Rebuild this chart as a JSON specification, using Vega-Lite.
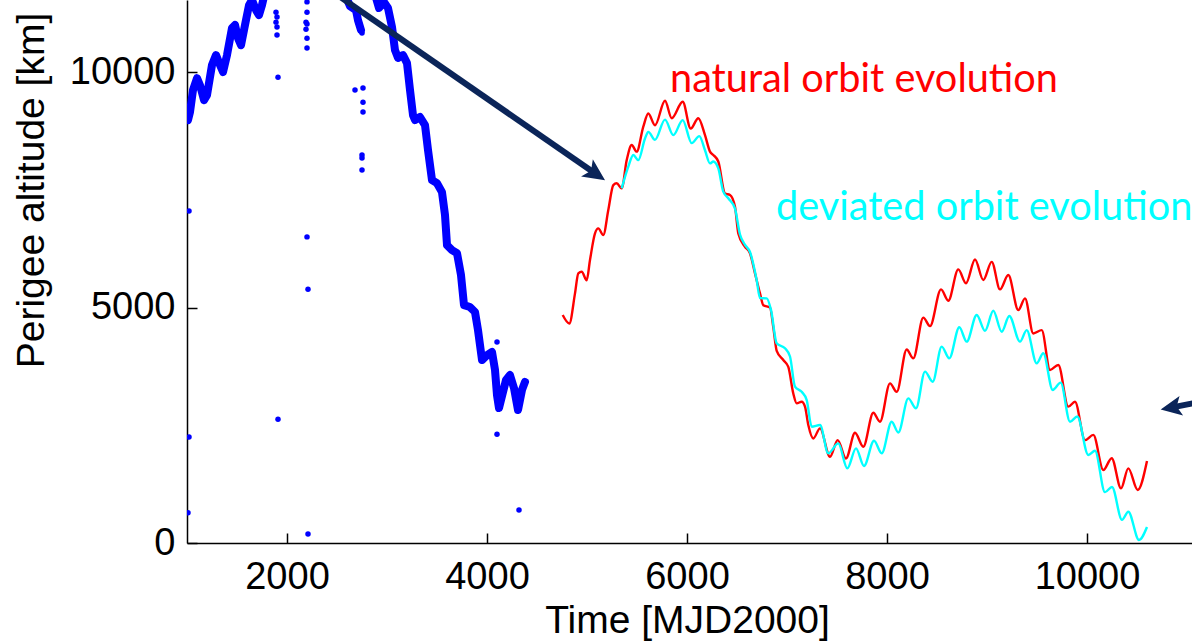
{
  "$schema": "https://vega.github.io/schema/vega-lite/v6.json",
  "width": 1005,
  "height": 543,
  "autosize": {"type": "none"},
  "padding": {"left": 187, "top": 0, "right": 0, "bottom": 99},
  "background": "#ffffff",
  "view": {"stroke": null},
  "datasets": {
    "track": [
      {"seg": "a", "t": 1010, "h": 8980}, {"seg": "a", "t": 1030, "h": 9150}, {"seg": "a", "t": 1060, "h": 9620},
      {"seg": "a", "t": 1100, "h": 9870}, {"seg": "a", "t": 1130, "h": 9720}, {"seg": "a", "t": 1170, "h": 9405},
      {"seg": "a", "t": 1200, "h": 9510}, {"seg": "a", "t": 1250, "h": 10150}, {"seg": "a", "t": 1290, "h": 10360},
      {"seg": "a", "t": 1330, "h": 10150}, {"seg": "a", "t": 1360, "h": 10000}, {"seg": "a", "t": 1400, "h": 10360},
      {"seg": "a", "t": 1450, "h": 10935}, {"seg": "a", "t": 1480, "h": 11000}, {"seg": "a", "t": 1510, "h": 10720},
      {"seg": "a", "t": 1540, "h": 10570}, {"seg": "a", "t": 1580, "h": 11000}, {"seg": "a", "t": 1620, "h": 11420},
      {"seg": "a", "t": 1650, "h": 11530}, {"seg": "a", "t": 1690, "h": 11315}, {"seg": "a", "t": 1720, "h": 11210},
      {"seg": "a", "t": 1750, "h": 11420}, {"seg": "a", "t": 1780, "h": 11700},
      {"seg": "b", "t": 2590, "h": 11600}, {"seg": "b", "t": 2630, "h": 11400}, {"seg": "b", "t": 2690, "h": 11315},
      {"seg": "b", "t": 2710, "h": 11100}, {"seg": "b", "t": 2740, "h": 10890},
      {"seg": "c", "t": 2880, "h": 11650}, {"seg": "c", "t": 2920, "h": 11360}, {"seg": "c", "t": 2970, "h": 11485},
      {"seg": "c", "t": 3010, "h": 11360}, {"seg": "c", "t": 3050, "h": 10955}, {"seg": "c", "t": 3080, "h": 10465},
      {"seg": "c", "t": 3110, "h": 10300}, {"seg": "c", "t": 3160, "h": 10360}, {"seg": "c", "t": 3200, "h": 10190},
      {"seg": "c", "t": 3230, "h": 9620}, {"seg": "c", "t": 3260, "h": 9085}, {"seg": "c", "t": 3280, "h": 8980},
      {"seg": "c", "t": 3330, "h": 9045}, {"seg": "c", "t": 3380, "h": 8875}, {"seg": "c", "t": 3410, "h": 8345},
      {"seg": "c", "t": 3450, "h": 7705}, {"seg": "c", "t": 3500, "h": 7640}, {"seg": "c", "t": 3550, "h": 7450},
      {"seg": "c", "t": 3580, "h": 6965}, {"seg": "c", "t": 3600, "h": 6325}, {"seg": "c", "t": 3650, "h": 6220},
      {"seg": "c", "t": 3700, "h": 6155}, {"seg": "c", "t": 3740, "h": 5690}, {"seg": "c", "t": 3770, "h": 5050},
      {"seg": "c", "t": 3830, "h": 5010}, {"seg": "c", "t": 3880, "h": 4905}, {"seg": "c", "t": 3910, "h": 4520},
      {"seg": "c", "t": 3950, "h": 3885}, {"seg": "c", "t": 4000, "h": 3990}, {"seg": "c", "t": 4050, "h": 4055},
      {"seg": "c", "t": 4080, "h": 3675}, {"seg": "c", "t": 4100, "h": 3140}, {"seg": "c", "t": 4120, "h": 2865},
      {"seg": "c", "t": 4160, "h": 3205}, {"seg": "c", "t": 4190, "h": 3460}, {"seg": "c", "t": 4230, "h": 3565},
      {"seg": "c", "t": 4270, "h": 3290}, {"seg": "c", "t": 4310, "h": 2825}, {"seg": "c", "t": 4350, "h": 3250},
      {"seg": "c", "t": 4380, "h": 3420}
    ],
    "dots": [
      {"t": 1020, "h": 7050}, {"t": 1020, "h": 2250}, {"t": 1010, "h": 640},
      {"t": 1890, "h": 11270}, {"t": 1900, "h": 11170}, {"t": 1890, "h": 11060}, {"t": 1900, "h": 10955},
      {"t": 1900, "h": 10785}, {"t": 1910, "h": 9890}, {"t": 1910, "h": 2630},
      {"t": 2200, "h": 11490}, {"t": 2200, "h": 11270}, {"t": 2190, "h": 11060}, {"t": 2200, "h": 11020},
      {"t": 2190, "h": 10910}, {"t": 2200, "h": 10720}, {"t": 2200, "h": 10510}, {"t": 2200, "h": 6500},
      {"t": 2210, "h": 5390}, {"t": 2210, "h": 190},
      {"t": 2750, "h": 10830}, {"t": 2680, "h": 9620}, {"t": 2760, "h": 9660}, {"t": 2760, "h": 9360},
      {"t": 2760, "h": 9150}, {"t": 2750, "h": 8240}, {"t": 2750, "h": 8175}, {"t": 2750, "h": 7920},
      {"t": 4100, "h": 4270}, {"t": 4100, "h": 2310}, {"t": 4320, "h": 700}
    ],
    "natural": [
      {"t": 4757, "h": 4840}, {"t": 4823, "h": 4660}, {"t": 4880, "h": 5300}, {"t": 4913, "h": 5725},
      {"t": 4947, "h": 5760}, {"t": 4997, "h": 5580}, {"t": 5030, "h": 6010}, {"t": 5080, "h": 6575},
      {"t": 5113, "h": 6680}, {"t": 5163, "h": 6540}, {"t": 5213, "h": 7070}, {"t": 5263, "h": 7600},
      {"t": 5297, "h": 7640}, {"t": 5347, "h": 7530}, {"t": 5397, "h": 8130}, {"t": 5447, "h": 8450},
      {"t": 5497, "h": 8310}, {"t": 5563, "h": 8840}, {"t": 5613, "h": 9120}, {"t": 5680, "h": 8870},
      {"t": 5780, "h": 9390}, {"t": 5847, "h": 9020}, {"t": 5957, "h": 9370}, {"t": 6037, "h": 8800},
      {"t": 6113, "h": 9020}, {"t": 6180, "h": 8660}, {"t": 6230, "h": 8310}, {"t": 6263, "h": 8240},
      {"t": 6313, "h": 8100}, {"t": 6380, "h": 7420}, {"t": 6430, "h": 7390}, {"t": 6480, "h": 7140},
      {"t": 6513, "h": 6575}, {"t": 6580, "h": 6290}, {"t": 6630, "h": 6150}, {"t": 6680, "h": 5725},
      {"t": 6730, "h": 5300}, {"t": 6763, "h": 5050}, {"t": 6830, "h": 5000}, {"t": 6863, "h": 4580},
      {"t": 6897, "h": 4080}, {"t": 6963, "h": 3885}, {"t": 7013, "h": 3740}, {"t": 7063, "h": 3175},
      {"t": 7097, "h": 2965}, {"t": 7147, "h": 3000}, {"t": 7180, "h": 2895}, {"t": 7213, "h": 2505},
      {"t": 7263, "h": 2220}, {"t": 7330, "h": 2435}, {"t": 7430, "h": 1830}, {"t": 7507, "h": 2185},
      {"t": 7590, "h": 1795}, {"t": 7680, "h": 2340}, {"t": 7763, "h": 2045}, {"t": 7863, "h": 2765},
      {"t": 7930, "h": 2575}, {"t": 8030, "h": 3390}, {"t": 8097, "h": 3210}, {"t": 8197, "h": 4110},
      {"t": 8263, "h": 3920}, {"t": 8363, "h": 4785}, {"t": 8430, "h": 4605}, {"t": 8540, "h": 5385},
      {"t": 8613, "h": 5145}, {"t": 8713, "h": 5810}, {"t": 8790, "h": 5515}, {"t": 8880, "h": 6020},
      {"t": 8963, "h": 5585}, {"t": 9047, "h": 5970}, {"t": 9130, "h": 5385}, {"t": 9213, "h": 5690},
      {"t": 9313, "h": 4945}, {"t": 9380, "h": 5195}, {"t": 9463, "h": 4450}, {"t": 9547, "h": 4520},
      {"t": 9630, "h": 3675}, {"t": 9713, "h": 3780}, {"t": 9813, "h": 2895}, {"t": 9880, "h": 3000},
      {"t": 9980, "h": 2185}, {"t": 10063, "h": 2295}, {"t": 10163, "h": 1550}, {"t": 10247, "h": 1800},
      {"t": 10340, "h": 1160}, {"t": 10413, "h": 1585}, {"t": 10507, "h": 1125}, {"t": 10600, "h": 1740}
    ],
    "deviated": [
      {"t": 5347, "h": 7530}, {"t": 5413, "h": 7990}, {"t": 5463, "h": 8240}, {"t": 5513, "h": 8130},
      {"t": 5580, "h": 8590}, {"t": 5613, "h": 8730}, {"t": 5680, "h": 8560}, {"t": 5780, "h": 8990},
      {"t": 5863, "h": 8660}, {"t": 5957, "h": 8980}, {"t": 6047, "h": 8490}, {"t": 6123, "h": 8640},
      {"t": 6180, "h": 8340}, {"t": 6230, "h": 8060}, {"t": 6263, "h": 8100}, {"t": 6313, "h": 7955},
      {"t": 6363, "h": 7460}, {"t": 6413, "h": 7320}, {"t": 6480, "h": 7100}, {"t": 6530, "h": 6550},
      {"t": 6580, "h": 6330}, {"t": 6630, "h": 6180}, {"t": 6697, "h": 5580}, {"t": 6730, "h": 5200},
      {"t": 6797, "h": 5195}, {"t": 6840, "h": 4950}, {"t": 6897, "h": 4240}, {"t": 6980, "h": 4135},
      {"t": 7030, "h": 3960}, {"t": 7080, "h": 3320}, {"t": 7147, "h": 3210}, {"t": 7197, "h": 3035},
      {"t": 7247, "h": 2470}, {"t": 7330, "h": 2505}, {"t": 7413, "h": 1905}, {"t": 7513, "h": 2115},
      {"t": 7603, "h": 1585}, {"t": 7690, "h": 2010}, {"t": 7770, "h": 1635}, {"t": 7870, "h": 2170},
      {"t": 7947, "h": 1905}, {"t": 8047, "h": 2575}, {"t": 8113, "h": 2345}, {"t": 8213, "h": 3070},
      {"t": 8290, "h": 2860}, {"t": 8380, "h": 3640}, {"t": 8457, "h": 3425}, {"t": 8547, "h": 4170},
      {"t": 8623, "h": 3920}, {"t": 8723, "h": 4580}, {"t": 8797, "h": 4275}, {"t": 8897, "h": 4840},
      {"t": 8980, "h": 4505}, {"t": 9063, "h": 4930}, {"t": 9147, "h": 4485}, {"t": 9223, "h": 4820},
      {"t": 9330, "h": 4275}, {"t": 9397, "h": 4520}, {"t": 9497, "h": 3815}, {"t": 9563, "h": 4030},
      {"t": 9657, "h": 3250}, {"t": 9737, "h": 3405}, {"t": 9830, "h": 2575}, {"t": 9903, "h": 2685},
      {"t": 10013, "h": 1870}, {"t": 10080, "h": 1960}, {"t": 10180, "h": 1080}, {"t": 10250, "h": 1190},
      {"t": 10350, "h": 490}, {"t": 10413, "h": 665}, {"t": 10520, "h": 65}, {"t": 10600, "h": 340}
    ],
    "arrows": [
      {"arrow": "upper", "t": 2430, "h": 11746, "t2": 5090, "h2": 7834},
      {"arrow": "right", "t": 11230, "h": 3036, "t2": 10840, "h2": 2875}
    ]
  },
  "encoding": {
    "x": {
      "field": "t",
      "type": "quantitative",
      "scale": {"domain": [1000, 11050], "nice": false, "zero": false},
      "axis": {
        "values": [2000, 4000, 6000, 8000, 10000],
        "format": "d",
        "title": "Time [MJD2000]",
        "grid": false,
        "domainColor": "#000000",
        "domainWidth": 1.5,
        "tickColor": "#000000",
        "tickWidth": 1.5,
        "tickSize": -10,
        "labelFont": "Liberation Sans",
        "labelFontSize": 38,
        "labelColor": "#000000",
        "labelBaseline": "alphabetic",
        "labelPadding": 55,
        "labelFlush": false,
        "labelOverlap": false,
        "titleFont": "Liberation Sans",
        "titleFontSize": 39,
        "titleFontWeight": "normal",
        "titleColor": "#000000",
        "titleX": 500,
        "titleY": 89,
        "titleAlign": "center",
        "titleBaseline": "alphabetic"
      }
    },
    "y": {
      "field": "h",
      "type": "quantitative",
      "scale": {"domain": [0, 11530], "nice": false, "zero": false},
      "axis": {
        "values": [0, 5000, 10000],
        "format": "d",
        "title": "Perigee altitude [km]",
        "grid": false,
        "domainColor": "#000000",
        "domainWidth": 1.5,
        "tickColor": "#000000",
        "tickWidth": 1.5,
        "tickSize": -10,
        "labelFont": "Liberation Sans",
        "labelFontSize": 38,
        "labelColor": "#000000",
        "labelBaseline": "middle",
        "labelPadding": 22,
        "labelOverlap": false,
        "titleFont": "Liberation Sans",
        "titleFontSize": 39,
        "titleFontWeight": "normal",
        "titleColor": "#000000",
        "titleAngle": 270,
        "titleX": -144,
        "titleY": 190,
        "titleAlign": "center",
        "titleBaseline": "alphabetic"
      }
    }
  },
  "layer": [
    {
      "data": {"name": "track"},
      "mark": {"type": "line", "color": "#0000ff", "strokeWidth": 8, "strokeCap": "round", "strokeJoin": "round", "clip": true},
      "encoding": {"detail": {"field": "seg"}}
    },
    {
      "data": {"name": "dots"},
      "mark": {"type": "point", "shape": "circle", "filled": true, "color": "#0000ff", "opacity": 1, "size": 30, "clip": true}
    },
    {
      "data": {"name": "natural"},
      "mark": {"type": "line", "color": "#ff0000", "strokeWidth": 2.4, "interpolate": "monotone", "clip": true}
    },
    {
      "data": {"name": "deviated"},
      "mark": {"type": "line", "color": "#00ffff", "strokeWidth": 2.4, "interpolate": "monotone", "clip": true}
    },
    {
      "data": {"name": "arrows"},
      "mark": {"type": "rule", "color": "#0b2559", "strokeWidth": 6, "clip": true},
      "encoding": {
        "x2": {"field": "t2"},
        "y2": {"field": "h2"}
      }
    },
    {
      "data": {"name": "arrows"},
      "transform": [{"filter": "datum.arrow === 'upper'"}],
      "mark": {"type": "point", "shape": "M 1 0 L -1 -0.95 L -0.55 0 L -1 0.95 Z", "filled": true, "color": "#0b2559", "opacity": 1, "size": 480, "angle": 34.4, "clip": true},
      "encoding": {
        "x": {"field": "t2", "type": "quantitative"},
        "y": {"field": "h2", "type": "quantitative"}
      }
    },
    {
      "data": {"name": "arrows"},
      "transform": [{"filter": "datum.arrow === 'right'"}],
      "mark": {"type": "point", "shape": "M 1 0 L -1 -0.95 L -0.55 0 L -1 0.95 Z", "filled": true, "color": "#0b2559", "opacity": 1, "size": 440, "angle": 169.7, "clip": true},
      "encoding": {
        "x": {"field": "t2", "type": "quantitative"},
        "y": {"field": "h2", "type": "quantitative"}
      }
    },
    {
      "data": {"values": [{"label": "natural orbit evolution", "t": 5830, "h": 9575}]},
      "mark": {"type": "text", "font": "Lato", "fontSize": 39.7, "color": "#ff0000", "align": "left", "baseline": "alphabetic"},
      "encoding": {"text": {"field": "label"}}
    },
    {
      "data": {"values": [{"label": "deviated orbit evolution", "t": 6890, "h": 6857}]},
      "mark": {"type": "text", "font": "Lato", "fontSize": 39.7, "color": "#00ffff", "align": "left", "baseline": "alphabetic"},
      "encoding": {"text": {"field": "label"}}
    }
  ]
}
